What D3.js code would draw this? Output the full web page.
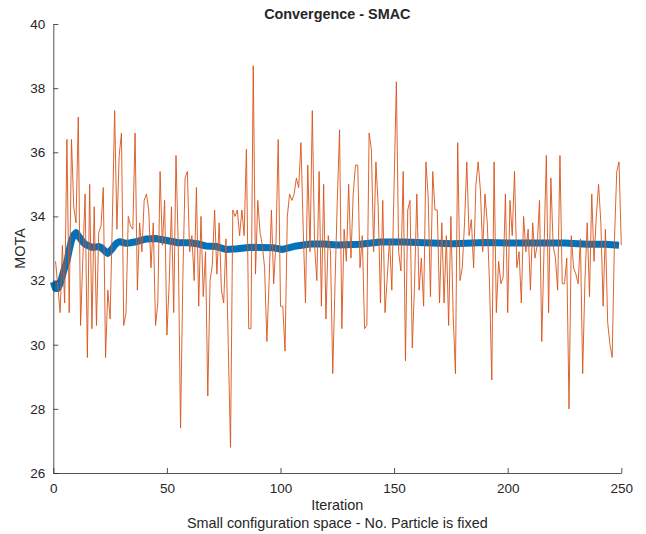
<!DOCTYPE html>
<html>
<head>
<meta charset="utf-8">
<script src="https://cdn.jsdelivr.net/npm/d3@7"></script>
<style>
  body { margin: 0; background: #fff; }
  text { font-family: "Liberation Sans", Arial, Helvetica, sans-serif; fill: #262626; }
</style>
</head>
<body>
<div id="container"></div>
<script>
// Chart dimensions
const width = 646;
const height = 534;
const margin = { top: 24, right: 24.7, bottom: 61, left: 53.3 };

// Raw MOTA per iteration (1..250)
const motaRaw = [
    32.6, 31.8, 31.0, 33.1, 31.3, 36.4, 31.0, 36.4, 34.3, 33.8,
    37.1, 30.6, 32.7, 34.7, 29.6, 35.0, 30.5, 34.3, 30.6, 33.5,
    33.7, 34.9, 29.6, 31.7, 30.8, 33.9, 37.3, 33.6, 35.9, 36.6,
    30.6, 31.0, 34.0, 33.7, 33.6, 36.6, 31.7, 33.8, 32.9, 34.5,
    34.7, 34.2, 32.4, 33.8, 30.6, 31.3, 35.4, 33.1, 34.5, 30.3,
    31.9, 34.3, 31.0, 35.9, 33.1, 27.4, 32.0, 35.2, 35.4, 32.9,
    33.4, 32.0, 34.9, 31.2, 34.0, 31.5, 32.9, 28.4, 32.0, 32.5,
    34.2, 32.2, 33.8, 31.7, 31.3, 33.3, 30.0, 26.8, 34.2, 34.0,
    34.2, 33.4, 34.2, 33.4, 36.1, 30.5, 30.5, 38.7, 32.2, 34.5,
    33.5, 33.1, 32.4, 30.1, 32.0, 34.2, 31.9, 33.2, 36.4, 31.2,
    31.2, 29.8, 34.0, 34.7, 34.5, 34.7, 35.2, 34.9, 36.3, 33.6,
    31.3, 35.6, 32.9, 37.3, 33.1, 32.0, 35.4, 31.2, 35.0, 30.8,
    33.4, 32.9, 29.1, 31.9, 34.5, 36.7, 30.5, 33.6, 32.6, 35.0,
    32.7, 34.7, 35.6, 35.6, 32.4, 33.4, 30.5, 30.6, 36.6, 36.1,
    32.9, 35.7, 34.3, 31.3, 34.5, 31.0, 32.1, 33.3, 31.7, 35.0,
    38.2, 32.9, 32.3, 35.4, 29.5, 34.2, 34.5, 29.9, 31.9, 34.7,
    31.7, 32.7, 31.2, 35.7, 34.6, 31.5, 35.4, 34.2, 34.2, 31.3,
    33.8, 31.3, 33.4, 30.6, 34.0, 30.9, 29.1, 36.3, 32.0, 32.4,
    33.8, 35.7, 33.4, 33.9, 32.4, 35.0, 35.7, 34.8, 32.9, 34.7,
    33.8, 31.9, 28.9, 35.7, 31.0, 32.6, 31.9, 32.1, 34.7, 31.0,
    34.5, 33.4, 35.4, 32.4, 32.9, 31.3, 34.0, 32.9, 33.6, 31.7,
    33.8, 32.7, 33.1, 34.5, 30.1, 33.0, 35.9, 31.0, 35.2, 33.1,
    32.7, 31.7, 35.9, 31.9, 31.9, 32.7, 28.0, 33.4, 32.4, 32.2,
    31.9, 33.3, 29.1, 32.0, 33.8, 31.5, 34.7, 32.6, 34.0, 35.0,
    33.8, 31.2, 33.6, 30.7, 30.0, 29.6, 33.3, 35.4, 35.7, 33.1
];

// Smoothed (running) MOTA, read at these iterations
const smoothIter = [
    0, 1, 2, 3, 4, 5, 6, 7, 8, 9, 10, 11, 12, 13, 14, 15, 16, 17, 18, 19,
    20, 21, 22, 23, 24, 25, 26, 27, 28, 29, 30, 32, 34, 37, 41, 45, 50, 55, 60, 64,
    67, 72, 76, 81, 87, 91, 97, 101, 107, 113, 119, 125, 135, 144, 154, 176, 190, 200, 210, 225,
    235, 243, 249
];
const smoothMota = [
    31.96, 31.75, 31.75, 31.9, 32.15, 32.4, 32.6, 32.95, 33.25, 33.42, 33.49, 33.4, 33.3, 33.2, 33.13, 33.1, 33.07, 33.04, 33.04, 33.05,
    33.06, 33.03, 32.97, 32.9, 32.85, 32.92, 33.0, 33.1, 33.17, 33.21, 33.2, 33.16, 33.18, 33.22, 33.3, 33.31, 33.25, 33.18, 33.18, 33.14,
    33.08, 33.06, 32.97, 32.99, 33.04, 33.03, 33.02, 32.97, 33.08, 33.14, 33.14, 33.11, 33.13, 33.2, 33.2, 33.15, 33.19, 33.17, 33.17, 33.17,
    33.13, 33.13, 33.1
];

const xTicks = [0, 50, 100, 150, 200, 250];
const yTicks = [26, 28, 30, 32, 34, 36, 38, 40];

const svg = d3.select("#container").append("svg")
    .attr("width", width)
    .attr("height", height);

const x = d3.scaleLinear()
    .domain([0, 250])
    .range([margin.left, width - margin.right]);

const y = d3.scaleLinear()
    .domain([26, 40])
    .range([height - margin.bottom, margin.top]);

// Lines
const rawLine = d3.line()
    .x((d, i) => x(i + 1))
    .y(d => y(d));

const smoothLine = d3.line()
    .x((d, i) => x(smoothIter[i]))
    .y(d => y(d));

svg.append("path")
    .datum(smoothMota)
    .attr("d", smoothLine)
    .attr("fill", "none")
    .attr("stroke", "#0072BD")
    .attr("stroke-width", 7)
    .attr("stroke-linejoin", "round");

svg.append("path")
    .datum(motaRaw)
    .attr("d", rawLine)
    .attr("fill", "none")
    .attr("stroke", "#D95319")
    .attr("stroke-opacity", 0.9)
    .attr("stroke-width", 1);

// Axes (MATLAB style, ticks inside, no box)
const xAxis = svg.append("g")
    .attr("transform", `translate(0,${height - margin.bottom})`)
    .call(d3.axisBottom(x).tickValues(xTicks).tickSizeInner(-5).tickSizeOuter(0).tickPadding(10));

const yAxis = svg.append("g")
    .attr("transform", `translate(${margin.left},0)`)
    .call(d3.axisLeft(y).tickValues(yTicks).tickSizeInner(-5).tickSizeOuter(0).tickPadding(8));

[xAxis, yAxis].forEach(g => {
    g.select(".domain").attr("stroke", "#262626").attr("stroke-width", 0.8);
    g.selectAll(".tick line").attr("stroke", "#262626").attr("stroke-width", 0.8);
    g.selectAll(".tick text")
        .attr("font-size", 13.5)
        .attr("font-family", "Liberation Sans, Arial, sans-serif")
        .attr("fill", "#262626");
});

// Titles
svg.append("text")
    .attr("x", (margin.left + width - margin.right) / 2)
    .attr("y", 19)
    .attr("text-anchor", "middle")
    .attr("font-size", 14.4)
    .attr("font-weight", "bold")
    .text("Convergence - SMAC");

svg.append("text")
    .attr("x", (margin.left + width - margin.right) / 2)
    .attr("y", 510)
    .attr("text-anchor", "middle")
    .attr("font-size", 14.4)
    .text("Iteration");

svg.append("text")
    .attr("x", (margin.left + width - margin.right) / 2)
    .attr("y", 528)
    .attr("text-anchor", "middle")
    .attr("font-size", 14.4)
    .text("Small configuration space - No. Particle is fixed");

svg.append("text")
    .attr("transform", `translate(25,${(margin.top + height - margin.bottom) / 2}) rotate(-90)`)
    .attr("text-anchor", "middle")
    .attr("font-size", 14.4)
    .text("MOTA");
</script>
</body>
</html>
